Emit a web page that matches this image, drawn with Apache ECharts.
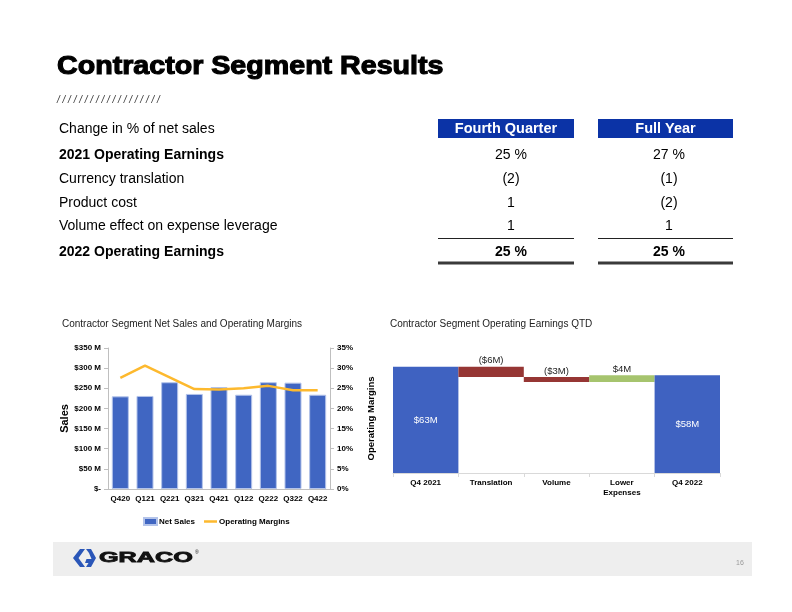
<!DOCTYPE html>
<html>
<head>
<meta charset="utf-8">
<script src="https://cdn.jsdelivr.net/npm/echarts@6/dist/echarts.min.js"></script>
<style>
html,body{margin:0;padding:0;background:#fff;}
#c{width:792px;height:612px;}
</style>
</head>
<body>
<div id="c"></div>
<script>
// ---------- data ----------
const slideTitle = 'Contractor Segment Results';
const tableHeaders = ['Fourth Quarter', 'Full Year'];
const rowLabels = ['Change in % of net sales', '2021 Operating Earnings', 'Currency translation', 'Product cost', 'Volume effect on expense leverage', '2022 Operating Earnings'];
const boldRows = [false, true, false, false, false, true];
const boldValues = [false, false, false, false, true];
const fourthQuarter = ['25 %', '(2)', '1', '1', '25 %'];
const fullYear = ['27 %', '(1)', '(2)', '1', '25 %'];

const salesChartTitle = 'Contractor Segment Net Sales and Operating Margins';
const quarters = ['Q420', 'Q121', 'Q221', 'Q321', 'Q421', 'Q122', 'Q222', 'Q322', 'Q422'];
const netSales = [230, 231, 265, 236, 253, 234, 265, 264, 234];           // $ M
const operatingMargins = [27.6, 30.6, 27.7, 24.8, 24.7, 25.0, 25.6, 24.5, 24.5]; // %

const bridgeTitle = 'Contractor Segment Operating Earnings QTD';
const bridgeCategories = ['Q4 2021', 'Translation', 'Volume', 'Lower\nExpenses', 'Q4 2022'];
const bridgeValues = [63, -6, -3, 4, 58];  // $ M
const bridgeIsTotal = [true, false, false, false, true];

const pageNumber = '16';

// ---------- derived waterfall ----------
const bridgeBase = [], bridgeHeight = [];
let running = 0;
bridgeValues.forEach((v, i) => {
  if (bridgeIsTotal[i]) { bridgeBase.push(0); bridgeHeight.push(v); running = v; }
  else if (v < 0) { bridgeBase.push(running + v); bridgeHeight.push(-v); running += v; }
  else { bridgeBase.push(running); bridgeHeight.push(v); running += v; }
});
const fmtM = v => v < 0 ? '($' + (-v) + 'M)' : '$' + v + 'M';

// ---------- style ----------
const FONT = 'Liberation Sans, Arial, sans-serif';
const BLUE = '#4066C2';
const HEADER_BLUE = '#0B33A6';

const chart = echarts.init(document.getElementById('c'), null, { renderer: 'canvas' });

// ---------- slide graphics ----------
const g = [];
g.push({ type: 'text', x: 57, y: 67.5, scaleX: 1.145, style: { text: slideTitle, font: 'bold 25px ' + FONT, fill: '#000', stroke: '#000', lineWidth: 1.1, textVerticalAlign: 'middle' } });
g.push({ type: 'text', x: 57, y: 100, style: { text: '/ / / / / / / / / / / / / / / / / / /', font: 'italic 10px ' + FONT, fill: '#333', textVerticalAlign: 'middle' } });

const rowY = [129, 155.5, 179.5, 203, 226.5, 252];
rowLabels.forEach((t, i) => {
  g.push({ type: 'text', x: 59, y: rowY[i], style: { text: t, font: (boldRows[i] ? 'bold ' : '') + '14px ' + FONT, fill: '#000', textVerticalAlign: 'middle' } });
});
const colBox = [[438, 136], [598, 135]];
const colCenter = [511, 669];
tableHeaders.forEach((t, j) => {
  g.push({ type: 'rect', shape: { x: colBox[j][0], y: 119, width: colBox[j][1], height: 19 }, style: { fill: HEADER_BLUE } });
  g.push({ type: 'text', x: colBox[j][0] + colBox[j][1] / 2, y: 129, style: { text: t, font: 'bold 14.5px ' + FONT, fill: '#fff', textAlign: 'center', textVerticalAlign: 'middle' } });
  const vals = j === 0 ? fourthQuarter : fullYear;
  vals.forEach((v, i) => {
    g.push({ type: 'text', x: colCenter[j], y: rowY[i + 1], style: { text: v, font: (boldValues[i] ? 'bold ' : '') + '14px ' + FONT, fill: '#000', textAlign: 'center', textVerticalAlign: 'middle' } });
  });
  g.push({ type: 'line', shape: { x1: colBox[j][0], y1: 238.5, x2: colBox[j][0] + colBox[j][1], y2: 238.5 }, style: { stroke: '#222', lineWidth: 1 } });
  g.push({ type: 'line', shape: { x1: colBox[j][0], y1: 263, x2: colBox[j][0] + colBox[j][1], y2: 263 }, style: { stroke: '#3a3a3a', lineWidth: 3 } });
});

// chart titles
g.push({ type: 'text', x: 62, y: 324, style: { text: salesChartTitle, font: '10px ' + FONT, fill: '#222', textVerticalAlign: 'middle' } });
g.push({ type: 'text', x: 390, y: 324, style: { text: bridgeTitle, font: '10px ' + FONT, fill: '#222', textVerticalAlign: 'middle' } });

// footer
g.push({ type: 'rect', shape: { x: 53, y: 542, width: 699, height: 34 }, style: { fill: '#EEEEEE' } });
g.push({ type: 'polygon', shape: { points: [[80, 549], [73, 558], [80, 567], [85, 567], [78.5, 558], [85, 549]] }, style: { fill: '#2A56B8' } });
g.push({ type: 'polygon', shape: { points: [[86, 549], [91, 549], [96, 558], [91, 567], [86, 567], [88.5, 563], [85, 563], [86.5, 559], [91.5, 559], [89, 553]] }, style: { fill: '#2A56B8' } });
g.push({ type: 'text', x: 99, y: 558.5, scaleX: 1.8, style: { text: 'GRACO', font: 'bold 14px ' + FONT, fill: '#111', stroke: '#111', lineWidth: 0.8, textVerticalAlign: 'middle' } });
g.push({ type: 'text', x: 195, y: 553, style: { text: '®', font: '5px ' + FONT, fill: '#111', textVerticalAlign: 'middle' } });
g.push({ type: 'text', x: 740, y: 563, style: { text: pageNumber, font: '7px ' + FONT, fill: '#999', textAlign: 'center', textVerticalAlign: 'middle' } });

// ---------- option ----------
const axisLab = { fontFamily: FONT, fontWeight: 'bold', fontSize: 8, color: '#000' };
const option = {
  animation: false,
  textStyle: { fontFamily: FONT },
  graphic: g,
  legend: {
    left: 138, top: 512, itemWidth: 13, itemHeight: 7, itemGap: 9,
    textStyle: { fontFamily: FONT, fontWeight: 'bold', fontSize: 8, color: '#000', padding: [0, 0, 0, -3] },
    data: [
      { name: 'Net Sales', icon: 'rect' },
      { name: 'Operating Margins', icon: 'path://M0,0H26V5H0Z' }
    ]
  },
  grid: [
    { left: 108, top: 348, width: 222, height: 141, containLabel: false, outerBoundsMode: 'none' },
    { left: 393, top: 355, width: 327, height: 118, containLabel: false, outerBoundsMode: 'none' }
  ],
  xAxis: [
    {
      type: 'category', gridIndex: 0, data: quarters,
      axisLine: { show: true, lineStyle: { color: '#BFBFBF', width: 1 } },
      axisTick: { show: false },
      axisLabel: Object.assign({ margin: 6, interval: 0 }, axisLab),
      splitLine: { show: false }
    },
    {
      type: 'category', gridIndex: 1, data: bridgeCategories,
      axisLine: { show: true, lineStyle: { color: '#D9D9D9', width: 1 } },
      axisTick: { show: true, length: 4, lineStyle: { color: '#D9D9D9' } },
      axisLabel: Object.assign({ margin: 5, interval: 0, lineHeight: 10 }, axisLab),
      splitLine: { show: false }
    }
  ],
  yAxis: [
    {
      type: 'value', gridIndex: 0, min: 0, max: 350, interval: 50, position: 'left',
      name: 'Sales', nameLocation: 'middle', nameRotate: 90, nameGap: 37,
      nameTextStyle: { fontFamily: FONT, fontWeight: 'bold', fontSize: 11, color: '#000' },
      axisLine: { show: true, lineStyle: { color: '#BFBFBF' } },
      axisTick: { show: true, length: 4, lineStyle: { color: '#BFBFBF' } },
      axisLabel: Object.assign({ margin: 7, formatter: v => v === 0 ? '$-' : '$' + v + ' M' }, axisLab),
      splitLine: { show: false }
    },
    {
      type: 'value', gridIndex: 0, min: 0, max: 35, interval: 5, position: 'right',
      name: 'Operating Margins', nameLocation: 'middle', nameRotate: 90, nameGap: 36,
      nameTextStyle: { fontFamily: FONT, fontWeight: 'bold', fontSize: 9.5, color: '#000' },
      axisLine: { show: true, lineStyle: { color: '#BFBFBF' } },
      axisTick: { show: true, length: 4, lineStyle: { color: '#BFBFBF' } },
      axisLabel: Object.assign({ margin: 7, formatter: '{value}%' }, axisLab),
      splitLine: { show: false }
    },
    {
      type: 'value', gridIndex: 1, min: 0, max: 70, show: false,
      splitLine: { show: false }
    }
  ],
  series: [
    {
      name: 'Net Sales', type: 'bar', xAxisIndex: 0, yAxisIndex: 0, data: netSales,
      barCategoryGap: '31%',
      itemStyle: { color: BLUE, borderColor: '#B4C4EA', borderWidth: 1 }
    },
    {
      name: 'Operating Margins', type: 'line', xAxisIndex: 0, yAxisIndex: 1, data: operatingMargins,
      symbol: 'none', lineStyle: { color: '#FDB92E', width: 2.5 }, itemStyle: { color: '#FDB92E' }
    },
    {
      name: 'base', type: 'bar', xAxisIndex: 1, yAxisIndex: 2, stack: 'wf', data: bridgeBase,
      barCategoryGap: '0%', silent: true,
      itemStyle: { color: 'rgba(0,0,0,0)' }
    },
    {
      name: 'bridge', type: 'bar', xAxisIndex: 1, yAxisIndex: 2, stack: 'wf',
      barCategoryGap: '0%',
      data: bridgeHeight.map((h, i) => ({
        value: h,
        itemStyle: { color: bridgeIsTotal[i] ? '#3F62C1' : (bridgeValues[i] < 0 ? '#963634' : '#A6C46E') },
        label: bridgeIsTotal[i]
          ? { show: true, position: 'inside', color: '#fff', fontSize: 9.5, fontFamily: FONT, formatter: fmtM(bridgeValues[i]) }
          : { show: true, position: 'top', distance: 1, color: '#222', fontSize: 9.5, fontFamily: FONT, formatter: fmtM(bridgeValues[i]) }
      }))
    }
  ]
};
chart.setOption(option);
</script>
</body>
</html>
